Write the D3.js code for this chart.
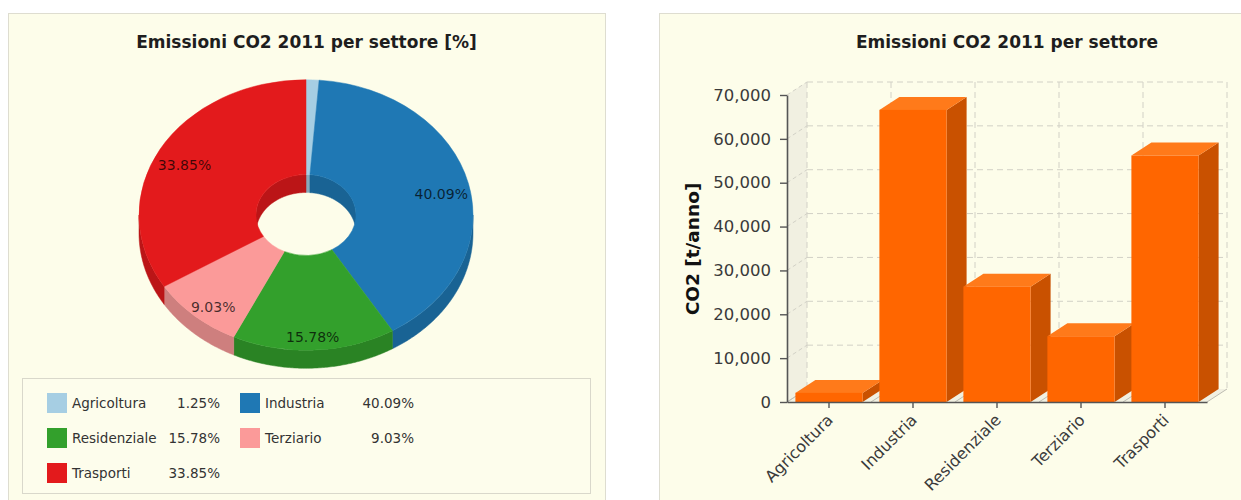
<!DOCTYPE html>
<html>
<head>
<meta charset="utf-8">
<script src="https://cdn.jsdelivr.net/npm/d3@7"></script>
<style>
  html, body { margin: 0; padding: 0; background: #ffffff; }
  svg { display: block; font-family: "DejaVu Sans", Verdana, sans-serif; }
</style>
</head>
<body>
<svg id="chart" width="1241" height="500"></svg>
<script>
// Sectors and their CO2 data for 2011
const sectors = ["Agricoltura", "Industria", "Residenziale", "Terziario", "Trasporti"];
const sharePct = [1.25, 40.09, 15.78, 9.03, 33.85];          // share of total [%]
const emissions = [2080, 66600, 26300, 15000, 56200];        // t/anno
const sectorColors = ["#a6cee3", "#1f78b4", "#33a02c", "#fb9a99", "#e31a1c"];
const yTicks = [0, 10000, 20000, 30000, 40000, 50000, 60000, 70000];

const svg = d3.select("#chart");
const panelFill = "#fdfdea", panelStroke = "#deddd0";

/* ---------------- Left panel: 3D doughnut ---------------- */
svg.append("rect")
  .attr("x", 8.5).attr("y", 13.5).attr("width", 597).attr("height", 520)
  .attr("fill", panelFill).attr("stroke", panelStroke);

svg.append("text")
  .attr("x", 306.5).attr("y", 48)
  .attr("text-anchor", "middle")
  .attr("font-size", 17).attr("font-weight", "bold").attr("fill", "#1e1e1e")
  .text("Emissioni CO2 2011 per settore [%]");

const cx = 306, cy = 215, R = 167, r0 = 50, tilt = 0.81, depth = 18;
const pieData = sectors.map((s, i) => ({ s, v: sharePct[i], c: sectorColors[i] }));
const arcs = d3.pie().sort(null).value(d => d.v)(pieData);

// point on the tilted ellipse for radius rad at angle a (0 = top, clockwise)
const pt = (rad, a, off, k = tilt) => [cx + rad * Math.sin(a), cy - rad * k * Math.cos(a) + off];

// side wall of the ring between angles a0..a1 at radius rad
function wall(rad, a0, a1) {
  const n = Math.max(2, Math.ceil((a1 - a0) / 0.01));
  const ts = d3.range(n + 1).map(i => a0 + (a1 - a0) * i / n);
  const upper = ts.map(t => pt(rad, t, 0));
  const lower = ts.map(t => pt(rad, t, depth)).reverse();
  return d3.line()(upper.concat(lower)) + "Z";
}
const overlap = (a0, a1, lo, hi) => {
  const s = Math.max(a0, lo), e = Math.min(a1, hi);
  return s < e ? [s, e] : null;
};

const pieG = svg.append("g");
const dark = c => d3.color(c).darker(0.55).formatHex();

// outer wall: visible on the front (lower) half
arcs.forEach(a => {
  const seg = overlap(a.startAngle, a.endAngle, Math.PI / 2, 3 * Math.PI / 2);
  if (seg) pieG.append("path").attr("d", wall(R, seg[0], seg[1]))
    .attr("fill", dark(a.data.c)).attr("stroke", dark(a.data.c)).attr("stroke-width", 0.5);
});
// inner wall of the hole: visible on the back (upper) half
arcs.forEach(a => {
  [[0, Math.PI / 2], [3 * Math.PI / 2, 2 * Math.PI]].forEach(([lo, hi]) => {
    const seg = overlap(a.startAngle, a.endAngle, lo, hi);
    if (seg) pieG.append("path").attr("d", wall(r0, seg[0], seg[1]))
      .attr("fill", dark(a.data.c)).attr("stroke", dark(a.data.c)).attr("stroke-width", 0.5);
  });
});
// top faces
const arcGen = d3.arc().innerRadius(r0).outerRadius(R);
pieG.append("g")
  .attr("transform", `translate(${cx},${cy}) scale(1,${tilt})`)
  .selectAll("path").data(arcs).join("path")
  .attr("d", arcGen)
  .attr("fill", d => d.data.c)
  .attr("stroke", d => d.data.c).attr("stroke-width", 0.5)
  .attr("vector-effect", "non-scaling-stroke");

// percentage labels (small slices stay unlabelled)
const labelR = 139, labelTilt = 0.834;
const labelPos = a => pt(labelR, (a.startAngle + a.endAngle) / 2, 6, labelTilt);
pieG.selectAll("text.pl").data(arcs.filter(a => a.data.v >= 2)).join("text")
  .attr("class", "pl")
  .attr("x", a => labelPos(a)[0])
  .attr("y", a => labelPos(a)[1])
  .attr("text-anchor", "middle").attr("dominant-baseline", "central")
  .attr("font-size", 14).attr("fill", "#000").attr("fill-opacity", 0.72)
  .text(a => a.data.v.toFixed(2) + "%");

// legend
const lg = svg.append("g");
lg.append("rect")
  .attr("x", 22.5).attr("y", 378.5).attr("width", 568).attr("height", 115)
  .attr("fill", "#fdfdec").attr("stroke", "#d9d8cb");
const colX = [47, 240], valX = [220, 414], rowY = [403, 438, 473];
pieData.forEach((d, i) => {
  const col = i % 2, row = Math.floor(i / 2);
  const item = lg.append("g");
  item.append("rect")
    .attr("x", colX[col]).attr("y", rowY[row] - 10)
    .attr("width", 20).attr("height", 20).attr("fill", d.c);
  item.append("text")
    .attr("x", colX[col] + 25).attr("y", rowY[row])
    .attr("dominant-baseline", "central")
    .attr("font-size", 13.5).attr("fill", "#333")
    .text(d.s);
  item.append("text")
    .attr("x", valX[col]).attr("y", rowY[row])
    .attr("text-anchor", "end").attr("dominant-baseline", "central")
    .attr("font-size", 13.5).attr("fill", "#333")
    .text(d.v.toFixed(2) + "%");
});

/* ---------------- Right panel: 3D bar chart ---------------- */
svg.append("rect")
  .attr("x", 659.5).attr("y", 13.5).attr("width", 640).attr("height", 520)
  .attr("fill", panelFill).attr("stroke", panelStroke);

svg.append("text")
  .attr("x", 1007).attr("y", 48)
  .attr("text-anchor", "middle")
  .attr("font-size", 17).attr("font-weight", "bold").attr("fill", "#1e1e1e")
  .text("Emissioni CO2 2011 per settore");

const x = d3.scaleBand().domain(sectors).range([787, 1207])
  .paddingInner(0.2).paddingOuter(0.1);
const y = d3.scaleLinear().domain([0, 70000]).range([402, 95]);
const dx = 20, dy = -13;
const [x0, x1] = x.range();
const yTop = y(70000), yBase = y(0);
const gridColor = "#d2d1c6";

const bg = svg.append("g");
// left side wall and floor
bg.append("path")
  .attr("d", d3.line()([[x0, yTop], [x0 + dx, yTop + dy], [x0 + dx, yBase + dy], [x0, yBase]]) + "Z")
  .attr("fill", "#f1f0e1");
bg.append("path")
  .attr("d", d3.line()([[x0, yBase], [x1, yBase], [x1 + dx, yBase + dy], [x0 + dx, yBase + dy]]) + "Z")
  .attr("fill", "#f1f0e1");

// horizontal grid on back wall plus diagonals across side wall
yTicks.forEach(t => {
  const yy = y(t);
  if (t > 0) bg.append("line")
    .attr("x1", x0 + dx).attr("x2", x1 + dx).attr("y1", yy + dy).attr("y2", yy + dy)
    .attr("stroke", gridColor).attr("stroke-dasharray", "6,4");
  bg.append("line")
    .attr("x1", x0).attr("x2", x0 + dx).attr("y1", yy).attr("y2", yy + dy)
    .attr("stroke", gridColor).attr("stroke-dasharray", t > 0 ? "4,3" : null);
});
// vertical grid at band boundaries on back wall, and diagonals on floor
const step = x.step();
d3.range(sectors.length + 1).forEach(i => {
  const xb = x0 + step * i;
  bg.append("line")
    .attr("x1", xb + dx).attr("x2", xb + dx).attr("y1", yTop + dy).attr("y2", yBase + dy)
    .attr("stroke", gridColor).attr("stroke-dasharray", "6,4");
  bg.append("line")
    .attr("x1", xb).attr("x2", xb + dx).attr("y1", yBase).attr("y2", yBase + dy)
    .attr("stroke", "#bdbcb2");
});

// bars
const barFront = "#ff6600", barTop = "#ff7a1a", barSide = "#c95100";
const barsG = svg.append("g");
sectors.forEach((s, i) => {
  const bx = x(s), bw = x.bandwidth(), by = y(emissions[i]);
  const b = barsG.append("g");
  b.append("path")
    .attr("d", d3.line()([[bx + bw, by], [bx + bw + dx, by + dy], [bx + bw + dx, yBase + dy], [bx + bw, yBase]]) + "Z")
    .attr("fill", barSide);
  b.append("path")
    .attr("d", d3.line()([[bx, by], [bx + dx, by + dy], [bx + bw + dx, by + dy], [bx + bw, by]]) + "Z")
    .attr("fill", barTop);
  b.append("rect")
    .attr("x", bx).attr("y", by).attr("width", bw).attr("height", yBase - by)
    .attr("fill", barFront);
});

// axes
const axisColor = "#555", tickText = "#3a3a3a";
const yAxis = svg.append("g").attr("transform", `translate(${x0},0)`)
  .call(d3.axisLeft(y).tickValues(yTicks).tickSize(7).tickSizeOuter(0).tickPadding(9)
    .tickFormat(d3.format(",")));
yAxis.select(".domain").attr("stroke", axisColor).attr("stroke-width", 1.6);
yAxis.selectAll(".tick line").attr("stroke", axisColor).attr("stroke-width", 1.4);
yAxis.selectAll(".tick text")
  .attr("font-size", 16.5).attr("fill", tickText)
  .attr("font-family", "'DejaVu Sans', Verdana, sans-serif");

const xAxis = svg.append("g").attr("transform", `translate(0,${yBase})`)
  .call(d3.axisBottom(x).tickSize(6).tickSizeOuter(0));
xAxis.select(".domain").attr("stroke", axisColor).attr("stroke-width", 1.6);
xAxis.selectAll(".tick line").attr("stroke", axisColor).attr("stroke-width", 1.4);
xAxis.selectAll(".tick text")
  .attr("x", 0).attr("y", 0).attr("dy", 0)
  .attr("text-anchor", "end")
  .attr("transform", "translate(5,19) rotate(-45)")
  .attr("font-size", 16).attr("fill", tickText)
  .attr("font-family", "'DejaVu Sans', Verdana, sans-serif");

svg.append("text")
  .attr("transform", "translate(692,249) rotate(-90)")
  .attr("text-anchor", "middle").attr("dominant-baseline", "central")
  .attr("font-size", 18.5).attr("font-weight", "bold").attr("fill", "#111")
  .text("CO2 [t/anno]");
</script>
</body>
</html>
